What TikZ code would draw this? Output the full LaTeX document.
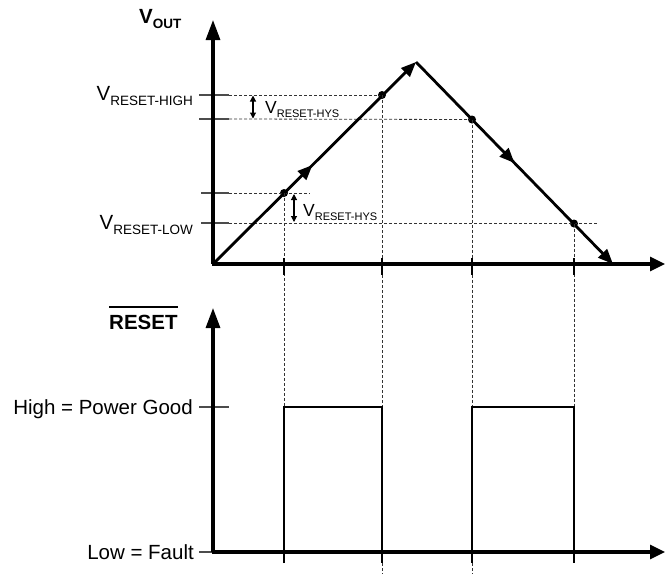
\documentclass[tikz,border=0pt]{standalone}
\usepackage{fontspec}
\setmainfont{Liberation Sans}
\usetikzlibrary{arrows.meta,decorations.markings}
\newcommand\bigsub[1]{\raisebox{-0.28em}{\fontsize{13.5}{14}\selectfont #1}}
\newcommand\smallsub[1]{\raisebox{-0.25em}{\fontsize{11}{12}\selectfont #1}}
\begin{document}
\begin{tikzpicture}[x=1pt,y=-1pt,
  vaxis/.style={line width=3.1pt,-{Triangle[length=20pt,width=14pt]}},
  haxis/.style={line width=3.1pt,-{Triangle[length=15pt,width=14pt]}},
  ramp/.style={line width=2.8pt},
  midarrow/.style={postaction={decorate},decoration={markings,
     mark=at position #1 with {\arrow{Triangle[length=15pt,width=12pt]}}}},
  endarrow/.style={-{Triangle[length=15pt,width=12pt]}},
  guide/.style={black!80,line width=0.8pt,dash pattern=on 3pt off 2pt},
  tickm/.style={black!70,line width=1.3pt},
  vtick/.style={black,line width=1.3pt},
  pulse/.style={line width=2.8pt},
  lbl/.style={font=\fontsize{20.5}{24}\selectfont,inner sep=0pt},
  slbl/.style={font=\fontsize{17.5}{20}\selectfont,inner sep=0pt},
  hys/.style={line width=1.1pt,{Triangle[length=6pt,width=6pt]}-{Triangle[length=6pt,width=6pt]}},
  dot/.style={circle,fill=black,inner sep=0pt,minimum size=8pt}]

\useasboundingbox (0,0) rectangle (665,574);

% ---------- top graph ----------
\coordinate (O1) at (213,264);
\coordinate (Y1) at (213,20);
\coordinate (X1) at (665,264);
\coordinate (peak) at (416,62);
\coordinate (rend) at (613,264);

% level lines
\coordinate (hL) at (199,95);   \coordinate (hA) at (229,95);
\coordinate (gL) at (199,119);  \coordinate (gA) at (229,119);
\coordinate (lL) at (201,193);  \coordinate (lA) at (229,193);
\coordinate (kL) at (201,223);  \coordinate (kA) at (229,223);

\node[dot] (d1) at (284,193) {};
\node[dot] (d2) at (382,95) {};
\node[dot] (d3) at (472,119.5) {};
\node[dot] (d4) at (574,223.5) {};

\coordinate (lE) at (310,193);
\coordinate (kE) at (598,223);

\draw[tickm] (hL) -- (hA);
\draw[tickm] (gL) -- (gA);
\draw[tickm] (lL) -- (lA);
\draw[tickm] (kL) -- (kA);
\draw[guide] (hA) -- (d2.center);
\draw[guide] (gA) -- (d3.center);
\draw[guide] (lA) -- (lE);
\draw[guide] (kA) -- (kE);

% hysteresis arrows
\coordinate (ha1) at (253,95.5); \coordinate (ha2) at (253,118.5);
\coordinate (hb1) at (294,194); \coordinate (hb2) at (294,222);
\draw[hys] (ha1) -- (ha2);
\draw[hys] (hb1) -- (hb2);

% labels
\node[lbl,anchor=base east] (lhigh) at (193,100) {V\bigsub{RESET-HIGH}};
\node[lbl,anchor=base east] (llow) at (193,229) {V\bigsub{RESET-LOW}};
\node[slbl,anchor=base west] (lhys1) at (265,113) {V\smallsub{RESET-HYS}};
\node[slbl,anchor=base west] (lhys2) at (303,216) {V\smallsub{RESET-HYS}};
\node[lbl,anchor=base west] (lvout) at (139,23) {\bfseries V\bigsub{\bfseries OUT}};

% ramp
\draw[ramp,midarrow=0.49,endarrow] (O1) -- (peak);
\draw[ramp,midarrow=0.5,endarrow] (peak) -- (rend);

% axes
\draw[vaxis] (O1) -- (Y1);
\draw[haxis] ([xshift=-1.5pt]O1) -- (X1);

% ---------- bottom graph ----------
\coordinate (O2) at (213,552);
\coordinate (Y2) at (213,308);
\coordinate (X2) at (665,552);
\coordinate (a1) at (284,407); \coordinate (a2) at (382,407);
\coordinate (b1) at (472,407); \coordinate (b2) at (574,407);
\coordinate (a1b) at (284,563); \coordinate (a2b) at (382,563);
\coordinate (b1b) at (472,563); \coordinate (b2b) at (574,563);
\coordinate (a2c) at (382,574); \coordinate (b1c) at (472,574);

% vertical guides from dots
\draw[guide] (d1.center) -- (a1);
\draw[guide] (d2.center) -- (a2);
\draw[guide] (d3.center) -- (b1);
\draw[guide] (d4.center) -- (b2);
\foreach \x in {284,382,472,574} \draw[vtick] (\x,258) -- (\x,275);

% pulses
\draw[pulse] (a1b) -- (a1) -- (a2) -- (a2b);
\draw[pulse] (b1b) -- (b1) -- (b2) -- (b2b);
\draw[guide] (a2b) -- (a2c);
\draw[guide] (b1b) -- (b1c);

% level ticks
\coordinate (pgL) at (199,407); \coordinate (pgA) at (229,407);
\coordinate (lfL) at (199,552);
\draw[tickm] (pgL) -- (pgA);
\draw[tickm] (lfL) -- (O2);

\node[lbl,anchor=base east] (lpg) at (193,414) {High = Power Good};
\node[lbl,anchor=base east] (lfault) at (194,559) {Low = Fault};
\node[lbl,anchor=base west] (lreset) at (109,329) {\bfseries RESET};
\draw[line width=1.5pt] ([yshift=7.5pt]lreset.north west) -- ([yshift=7.5pt]lreset.north east);

\draw[vaxis] (O2) -- (Y2);
\draw[haxis] ([xshift=-1.5pt]O2) -- (X2);
\end{tikzpicture}
\end{document}
